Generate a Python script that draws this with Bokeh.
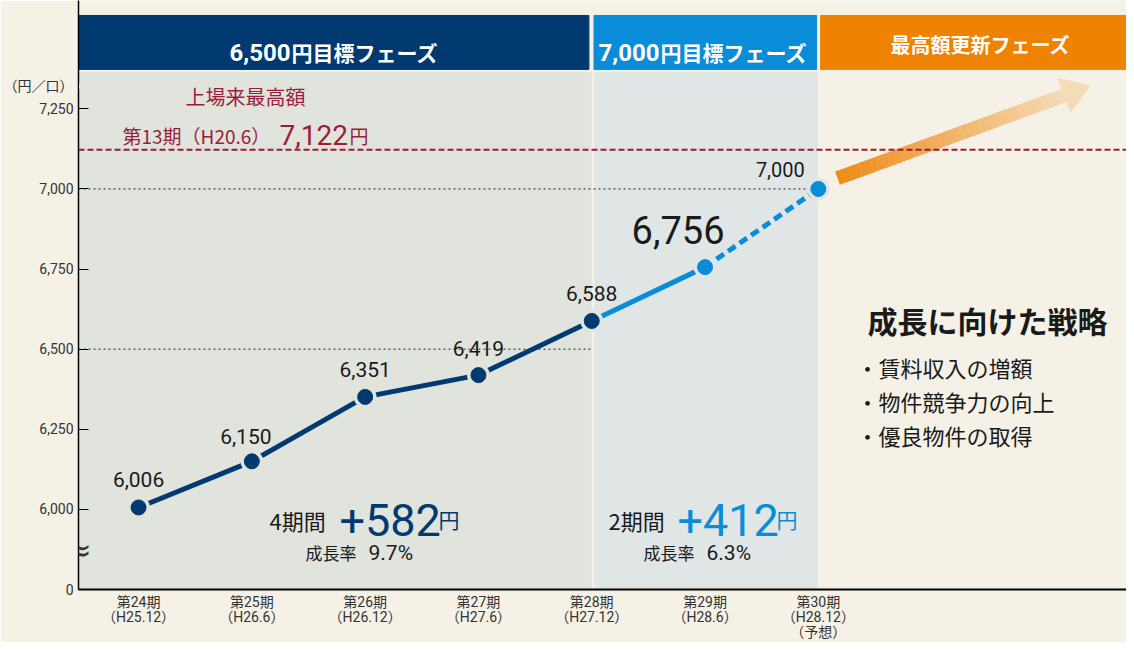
import math
from bokeh.plotting import figure
from bokeh.models import Range1d, FixedTicker, Span, Label
from bokeh.core.properties import value
from bokeh.embed import file_html
from bokeh.resources import INLINE

# ---------------- data ----------------
periods = ["第24期", "第25期", "第26期", "第27期", "第28期", "第29期", "第30期"]
dates = ["（H25.12）", "（H26.6）", "（H26.12）", "（H27.6）", "（H27.12）", "（H28.6）", "（H28.12）"]
notes = ["", "", "", "", "", "", "（予想）"]
prices = [6006, 6150, 6351, 6419, 6588, 6756, 7000]
record_price = 7122
y_ticks = [5750, 6000, 6250, 6500, 6750, 7000, 7250]
y_tick_labels = ["0", "6,000", "6,250", "6,500", "6,750", "7,000", "7,250"]
y_unit = "（円／口）"
phase_digits = ["6,500", "7,000"]
phase_rest = ["円目標フェーズ", "円目標フェーズ"]
phase3 = "最高額更新フェーズ"
strategy_title = "成長に向けた戦略"
strategy_items = ["・賃料収入の増額", "・物件競争力の向上", "・優良物件の取得"]
growth1 = ("4期間", "+582", "円", "成長率", "9.7%")
growth2 = ("2期間", "+412", "円", "成長率", "6.3%")
record_lines = ("上場来最高額", "第13期（H20.6）", "7,122", "円")

# ---------------- style ----------------
CREAM = "#f5f1e6"
BAND1 = "#e1e3dd"
BAND2 = "#dfe6e5"
NAVY = "#003a70"
BLUE = "#0a8dd8"
ORANGE = "#ef8200"
CRIMSON = "#9b1d3a"
TXT = "#1a1a1a"
JP = "Noto Sans CJK JP"
NUM = "Roboto, Noto Sans CJK JP"

W, H = 1126, 642
FL, FR, FT, FB = 78, 1126, 0, 590
XS, XE = -0.53, 8.72
YS, YE = 5750, 7588

p = figure(width=W, height=H, x_range=Range1d(XS, XE), y_range=Range1d(YS, YE),
           output_backend="svg", toolbar_location=None,
           min_border_left=FL, min_border_right=0, min_border_top=0, min_border_bottom=H - FB,
           background_fill_color=CREAM, border_fill_color=CREAM, outline_line_color=None)
p.grid.visible = False

# pixel -> data helpers (layout only)
def dx(px):
    return XS + (px - FL) / (FR - FL) * (XE - XS)
def dy(py):
    return YE - (py - FT) / (FB - FT) * (YE - YS)

# background bands and header bars
p.quad(left=[XS], right=[3.995], bottom=[YS], top=[dy(72)], color=BAND1)
p.quad(left=[4.028], right=[5.99], bottom=[YS], top=[dy(72)], color=BAND2)
p.quad(left=[XS, 4.02, 6.02], right=[3.975, 5.985, XE], bottom=[dy(69)] * 3, top=[dy(15)] * 3,
       color=[NAVY, BLUE, ORANGE])

def txt(px, py, s, size, color, font=JP, align="left", base="alphabetic", bold=False):
    p.text(x=[dx(px)], y=[dy(py)], text=[s], text_font=value(font), text_font_size=f"{size}px",
           text_color=color, text_align=align, text_baseline=base,
           text_font_style="bold" if bold else "normal")

# header texts
txt(290, 52, phase_digits[0], 24, "white", NUM, align="right", bold=True)
txt(291, 52, phase_rest[0], 21, "white", JP, bold=True)
txt(659, 52, phase_digits[1], 24, "white", NUM, align="right", bold=True)
txt(660, 52, phase_rest[1], 21, "white", JP, bold=True)
txt(980, 44, phase3, 20, "white", JP, align="center", base="middle", bold=True)

# dotted reference lines
p.segment(x0=[XS, XS], y0=[7000, 6500], x1=[6, 4], y1=[7000, 6500],
          line_color="#222222", line_width=1, line_dash="2 3")

# arrow (decorative; gradient imitated by short pieces)
S = (837, 178); E = (1064, 95)
N = 40
c0 = (239, 138, 20); c1 = (245, 220, 184)
xs0, ys0, xs1, ys1, cols = [], [], [], [], []
for i in range(N):
    t0 = i / N; t1 = min((i + 1.05) / N, 1.0)
    xs0.append(dx(S[0] + (E[0] - S[0]) * t0)); ys0.append(dy(S[1] + (E[1] - S[1]) * t0))
    xs1.append(dx(S[0] + (E[0] - S[0]) * t1)); ys1.append(dy(S[1] + (E[1] - S[1]) * t1))
    tm = (i + 0.5) / N
    cols.append("#%02x%02x%02x" % tuple(int(c0[k] + (c1[k] - c0[k]) * tm) for k in range(3)))
p.segment(x0=xs0, y0=ys0, x1=xs1, y1=ys1, line_color=cols, line_width=14, line_cap="butt")
L = math.hypot(E[0] - S[0], E[1] - S[1])
u = ((E[0] - S[0]) / L, (E[1] - S[1]) / L)
n = (-u[1], u[0])
hw, hl = 18, 27
tri = [(E[0] + hw * n[0], E[1] + hw * n[1]), (E[0] - hw * n[0], E[1] - hw * n[1]),
       (E[0] + hl * u[0], E[1] + hl * u[1])]
p.patch(x=[dx(a) for a, b in tri], y=[dy(b) for a, b in tri], color="#f5dcb8")

# record line
p.add_layout(Span(location=record_price, dimension="width", line_color=CRIMSON,
                  line_width=2, line_dash="6 3"))

# price line
xi = list(range(len(prices)))
p.line(x=xi[:5], y=prices[:5], line_color=NAVY, line_width=5)
p.line(x=xi[4:6], y=prices[4:6], line_color=BLUE, line_width=5)
p.line(x=xi[5:7], y=prices[5:7], line_color=BLUE, line_width=5, line_dash="9 5")
halo = [BAND1] * 5 + [BAND2] * 2
mcol = [NAVY] * 5 + [BLUE] * 2
p.scatter(x=xi, y=prices, size=22, color=halo)
p.scatter(x=xi, y=prices, size=15, color=mcol)

# value labels
lab_dx = [0, -6, 0, 0, 0, -27, -38]
lab_dy = [-28, -25, -27, -27, -27, -37, -19]
lab_sz = ["21px"] * 5 + ["38px", "20px"]
p.text(x=xi, y=prices, text=[f"{v:,}" for v in prices], x_offset=lab_dx, y_offset=lab_dy,
       text_font=value(NUM), text_font_size=lab_sz, text_color=TXT,
       text_align="center", text_baseline="middle")

# record annotation
txt(245, 96, record_lines[0], 20, CRIMSON, JP, align="center", base="middle")
txt(122, 135, record_lines[1], 19, CRIMSON, JP)
txt(279, 135, record_lines[2], 28, CRIMSON, NUM)
txt(349, 135, record_lines[3], 19, CRIMSON, JP)

# growth annotations
for (g, x0, x1, x2, xb, col) in [(growth1, 269, 339, 438, 305, NAVY),
                                 (growth2, 608, 677, 776, 643, BLUE)]:
    txt(x0, 520, g[0], 22, TXT, JP)
    txt(x1, 520, g[1], 45, col, NUM)
    txt(x2, 519, g[2], 21, col, JP)
    txt(xb, 553, g[3], 17, TXT, JP)
    txt(xb + 63, 553, g[4], 21, TXT, NUM)

# strategy text
txt(867, 320, strategy_title, 30, TXT, JP, base="middle", bold=True)
for i, s in enumerate(strategy_items):
    txt(856, 367 + 34 * i, s, 22, TXT, JP, base="middle")

# axes
unit_pos = dy(86)
p.yaxis.ticker = FixedTicker(ticks=y_ticks + [unit_pos])
ovr = {t: l for t, l in zip(y_ticks, y_tick_labels)}
ovr[unit_pos] = y_unit
p.yaxis.major_label_overrides = ovr
p.yaxis.major_tick_in = 10
p.yaxis.major_tick_out = 0
p.yaxis.minor_tick_line_color = None
p.yaxis.axis_line_width = 1.5
p.yaxis.axis_line_color = "black"
p.yaxis.major_tick_line_color = "black"
p.yaxis.major_label_text_font = NUM
p.yaxis.major_label_text_font_size = "14px"
p.yaxis.major_label_text_color = "#333333"
p.yaxis.major_label_standoff = 5
# hide the tick mark of the unit label
p.quad(left=[dx(79)], right=[dx(90)], bottom=[dy(88)], top=[dy(84)], color=BAND1, level="overlay")

p.xaxis.ticker = FixedTicker(ticks=xi)
p.xaxis.major_label_overrides = {
    i: "\n".join([s for s in (periods[i], dates[i], notes[i]) if s]) for i in xi}
p.xaxis.major_tick_line_color = None
p.xaxis.major_tick_out = 0
p.xaxis.major_tick_in = 0
p.xaxis.minor_tick_line_color = None
p.xaxis.minor_tick_out = 0
p.xaxis.axis_line_width = 2
p.xaxis.axis_line_color = "black"
p.xaxis.major_label_text_font = NUM
p.xaxis.major_label_text_font_size = "14px"
p.xaxis.major_label_text_line_height = 0.95
p.xaxis.major_label_text_color = "#333333"
p.xaxis.major_label_standoff = 4

p.add_layout(Label(x=XS, y=dy(550), text="≈", text_font="DejaVu Sans", text_font_size="32px",
                   text_color="#333333", text_align="center", text_baseline="middle"))

open("out.html", "w").write(file_html(p, INLINE))
